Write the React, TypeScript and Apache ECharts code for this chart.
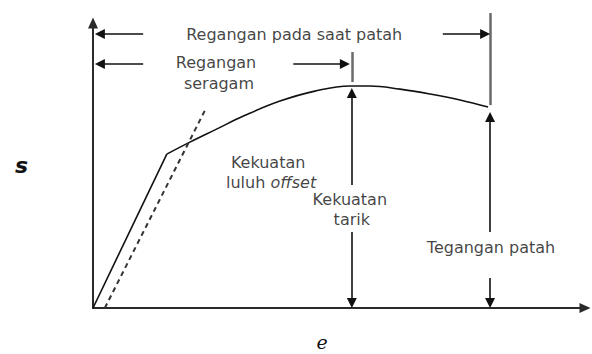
import React, { useEffect, useRef } from "react";
import * as echarts from "echarts";

// Stress–strain diagram (s vs e), values in arbitrary units 0..100
const elasticLine: number[][] = [
  [0, 0],
  [15.0, 54.0],
];
const plasticCurve: number[][] = [
  [15.0, 54.0],
  [19.7, 58.2],
  [24.8, 62.5],
  [30.9, 67.6],
  [38.0, 72.6],
  [45.1, 76.1],
  [52.2, 77.9],
  [56.3, 77.9],
  [62.4, 76.8],
  [68.5, 75.1],
  [74.6, 73.0],
  [80.3, 70.5],
];
const offsetLine: number[][] = [
  [2.4, 0],
  [22.8, 69.5],
];
const markerLines: number[][][] = [
  [
    [52.6, 79.3],
    [52.6, 89.8],
  ],
  [
    [80.7, 71.2],
    [80.7, 103.5],
  ],
];
const arrows: number[][][] = [
  [[10.2, 96.1], [1.4, 96.1]],
  [[71.1, 96.1], [79.7, 96.1]],
  [[10.2, 85.6], [1.4, 85.6]],
  [[40.7, 85.6], [51.2, 85.6]],
  [[52.6, 43.2], [52.6, 75.4]],
  [[52.6, 26.7], [52.6, 1.75]],
  [[80.7, 26.7], [80.7, 67.0]],
  [[80.7, 10.5], [80.7, 1.75]],
];
const labelTexts = [
  "Regangan pada saat patah",
  "Regangan",
  "seragam",
  "Kekuatan",
  "luluh offset",
  "Kekuatan",
  "tarik",
  "Tegangan patah",
];
const labelPositions: number[][] = [
  [40.9, 96.1],
  [25.0, 86.3],
  [25.6, 78.6],
  [35.6, 51.2],
  [36.2, 44.2],
  [52.2, 37.9],
  [52.6, 30.9],
  [80.9, 21.4],
];
const xAxisName = "e";
const yAxisName = "s";

const FONT = "DejaVu Sans";
const INK = "#111111";
const FS = 16;

export default function App() {
  const ref = useRef<HTMLDivElement>(null);
  useEffect(() => {
    if (!ref.current) return;
    const chart = echarts.init(ref.current, undefined, { renderer: "svg" });
    const labelData = labelTexts.map((t, i) => {
      const item: any = { name: t, value: labelPositions[i] };
      if (t === "luluh offset") {
        item.label = {
          formatter: "{n|luluh }{i|offset}",
          rich: {
            n: { fontFamily: FONT, fontSize: FS, color: INK },
            i: { fontFamily: FONT, fontSize: FS, color: INK, fontStyle: "italic" },
          },
        };
      }
      return item;
    });
    chart.setOption({
      animation: false,
      backgroundColor: "#ffffff",
      grid: {
        left: 93,
        right: 7,
        top: 23,
        bottom: 46,
        containLabel: false,
        outerBoundsMode: "none",
      },
      xAxis: {
        type: "value",
        min: 0,
        max: 100,
        name: xAxisName,
        nameLocation: "middle",
        nameGap: 24,
        nameTextStyle: {
          fontFamily: "DejaVu Serif",
          fontStyle: "italic",
          fontSize: 19,
          lineHeight: 19,
          color: INK,
          padding: [0, 34, 0, 0],
        },
        axisLine: {
          show: true,
          symbol: ["none", "triangle"],
          symbolSize: [10, 11],
          lineStyle: { color: "#2a2a2a", width: 2 },
        },
        axisTick: { show: false },
        axisLabel: { show: false },
        splitLine: { show: false },
      },
      yAxis: {
        type: "value",
        min: 0,
        max: 100,
        name: yAxisName,
        nameLocation: "middle",
        nameGap: 65,
        nameRotate: 0,
        nameTextStyle: {
          fontFamily: FONT,
          fontStyle: "italic",
          fontWeight: "bold",
          fontSize: 22,
          color: INK,
        },
        axisLine: {
          show: true,
          symbol: ["none", "triangle"],
          symbolSize: [10, 11],
          lineStyle: { color: "#2a2a2a", width: 2 },
        },
        axisTick: { show: false },
        axisLabel: { show: false },
        splitLine: { show: false },
      },
      series: [
        {
          type: "line",
          data: elasticLine,
          symbol: "none",
          lineStyle: { color: INK, width: 1.6 },
        },
        {
          type: "line",
          data: plasticCurve,
          symbol: "none",
          smooth: 0.4,
          lineStyle: { color: INK, width: 1.6 },
        },
        {
          type: "line",
          data: offsetLine,
          symbol: "none",
          lineStyle: { color: "#333", width: 2, type: [5, 4] },
        },
        {
          type: "lines",
          coordinateSystem: "cartesian2d",
          clip: false,
          silent: true,
          lineStyle: { color: "#6a6a6a", width: 2.5, opacity: 1 },
          data: markerLines.map((c) => ({ coords: c })),
        },
        {
          type: "lines",
          coordinateSystem: "cartesian2d",
          clip: false,
          silent: true,
          symbol: ["none", "triangle"],
          symbolSize: 10,
          lineStyle: { color: INK, width: 1.6, opacity: 1 },
          itemStyle: { color: INK },
          data: arrows.map((c) => ({ coords: c })),
        },
        {
          type: "scatter",
          symbol: "circle",
          symbolSize: 1,
          silent: true,
          itemStyle: { color: "rgba(0,0,0,0)" },
          label: {
            show: true,
            position: "inside",
            formatter: "{b}",
            fontFamily: FONT,
            fontSize: FS,
            color: INK,
          },
          data: labelData,
        },
      ],
    });
    return () => chart.dispose();
  }, []);
  return (
    <div
      ref={ref}
      style={{ position: "fixed", left: 0, top: 0, width: 592, height: 354 }}
    />
  );
}
